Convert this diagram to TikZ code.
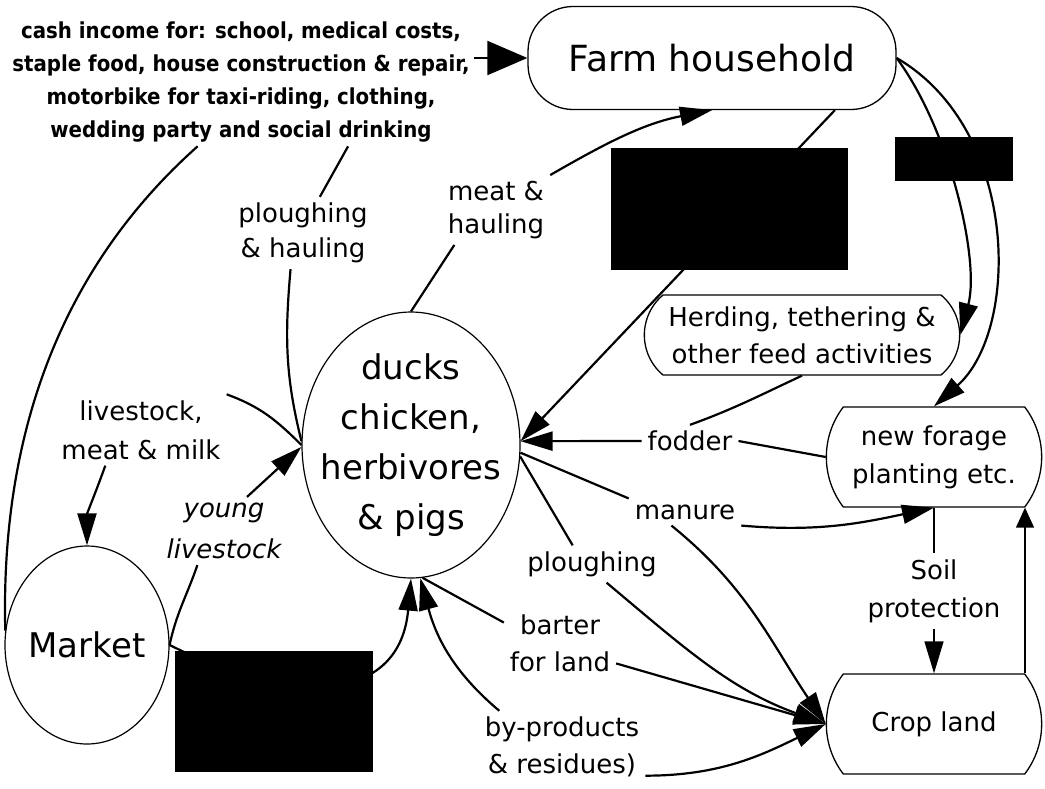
\documentclass[tikz,border=0pt]{standalone}
\usepackage{fontspec}
\setmainfont{DejaVu Sans}
\newfontfamily\cashfont{DejaVu Sans}[FakeStretch=0.9]
\usetikzlibrary{arrows.meta,shapes.geometric,shapes.misc}

\begin{document}
\begin{tikzpicture}[x=1pt,y=1pt,>={Triangle[length=32pt,width=19pt]},line width=2.2pt]
    \tikzstyle{box}=[draw,line width=1.3pt,rounded rectangle,rounded rectangle arc length=75,minimum width=222pt,minimum height=100pt,align=center,font=\fontsize{26}{38}\selectfont]
    \tikzstyle{oval}=[draw,line width=1.2pt,ellipse,inner sep=0pt]
    \tikzstyle{lbl}=[align=center,inner sep=5pt,font=\fontsize{26}{35}\selectfont]
    \tikzstyle{big}=[align=center,font=\fontsize{34}{50}\selectfont]
    \tikzstyle{blk}=[fill=black,draw=none,inner sep=0pt]
    \useasboundingbox (0,0) rectangle (1045,-788);
    \node[draw,line width=1.3pt,rounded corners=45pt,minimum width=368pt,minimum height=103pt,font=\fontsize{36}{42}\selectfont] (farm) at (712,-58) {Farm household};
    \node[oval,minimum width=218pt,minimum height=266pt,label={[big]center:{ducks\\chicken,\\herbivores\\\& pigs}}] (herd) at (411,-445) {};
    \node[oval,minimum width=164pt,minimum height=198pt,label={[big]center:Market}] (mkt) at (87,-645) {};
    \node[box,rounded rectangle arc length=100,minimum width=322pt,minimum height=80pt,font=\fontsize{26}{37}\selectfont] (herding) at (802,-335) {Herding, tethering \&\\other feed activities};
    \node[box] (forage) at (934,-457) {new forage\\planting etc.};
    \node[box] (crop) at (934,-724) {Crop land};
    \node[lbl,inner sep=3pt,font=\cashfont\bfseries\fontsize{22}{33}\selectfont] (cash) at (241,-82) {cash income for: school, medical costs,\\staple food, house construction \& repair,\\motorbike for taxi-riding, clothing,\\wedding party and social drinking};
    \node[lbl] (plhaul) at (303,-233) {ploughing\\\& hauling};
    \node[lbl,font=\fontsize{26}{33}\selectfont] (mthaul) at (496,-210) {meat \&\\hauling};
    \node[lbl,font=\fontsize{26}{39}\selectfont] (lvstk) at (141,-430) {livestock,\\meat \& milk};
    \node[lbl,font=\itshape\fontsize{26}{41}\selectfont] (young) at (224,-531) {young\\livestock};
    \node[lbl] (fodder) at (690,-441) {fodder};
    \node[lbl] (manure) at (685,-512) {manure};
    \node[lbl] (plough) at (592,-564) {ploughing};
    \node[lbl,font=\fontsize{26}{37}\selectfont] (barter) at (560,-643) {barter\\for land};
    \node[lbl,font=\fontsize{26}{37}\selectfont] (byprod) at (562,-747) {by-products\\\& residues)};
    \node[lbl,font=\fontsize{26}{38}\selectfont] (soil) at (934,-591) {Soil\\protection};
    \draw (mkt.170) .. controls (0,-420) and (70,-260) .. (cash.236);
    \draw[->,>={Triangle[length=40pt,width=34pt]}] (cash.east |- farm.west) -- (farm.west);
    \draw (plhaul.65) -- (cash.329);
    \draw (plhaul.251) to[out=265,in=104] (herd.178);
    \draw (herd.north) -- (mthaul.220);
    \draw[->] (mthaul.north east) to[out=30,in=191] (farm.south);
    \draw[->] (farm.337) -- (herd.2);
    \draw[->] (farm.east) .. controls (950,-130) and (980,-260) .. (herding.east);
    \draw[->] (farm.east) .. controls (1020,-130) and (1020,-330) .. (forage.north);
    \draw (herding.south) to[out=205,in=20] (fodder.north);
    \draw (forage.west) -- (fodder.east);
    \draw[->] (fodder.west) -- (herd.2);
    \draw (herd.356) -- (manure.north west);
    \draw[->] (manure.south east) to[out=-5,in=192] (forage.south);
    \draw[->] (manure.225) to[out=-39,in=124] (crop.west);
    \draw (herd.354) -- (plough.136);
    \draw[->] (plough.308) to[out=-40,in=160] (crop.west);
    \draw (herd.275) -- (barter.160);
    \draw[->] (barter.340) -- (crop.west);
    \draw[->] (byprod.150) to[out=140,in=285] (herd.274);
    \draw[->] (byprod.341) to[out=0,in=206] (crop.west);
    \draw[line width=1.4pt] (forage.south) -- (soil.north);
    \draw[->,line width=1.4pt] (soil.south) -- (crop.north);
    \draw[->,line width=1.4pt,>={Triangle[length=20pt,width=18pt]}] (crop.north east) -- (forage.south east);
    \draw[->] (young.56) -- (herd.181);
    \draw (herd.180) to[out=135,in=-20] (lvstk.north east);
    \draw[->] (lvstk.225) to[out=250,in=90] (mkt.north);
    \draw (mkt.east) to[out=78,in=251] (young.232);
    \draw[->] (mkt.east) .. controls (300,-710) and (400,-700) .. (herd.270);
    \node[blk,minimum width=237pt,minimum height=122pt] (blkA) at (729.5,-209) {};
    \node[blk,minimum width=118pt,minimum height=44pt] (blkB) at (954,-159) {};
    \node[blk,minimum width=198pt,minimum height=121pt] (blkC) at (274,-711.5) {};
\end{tikzpicture}
\end{document}
